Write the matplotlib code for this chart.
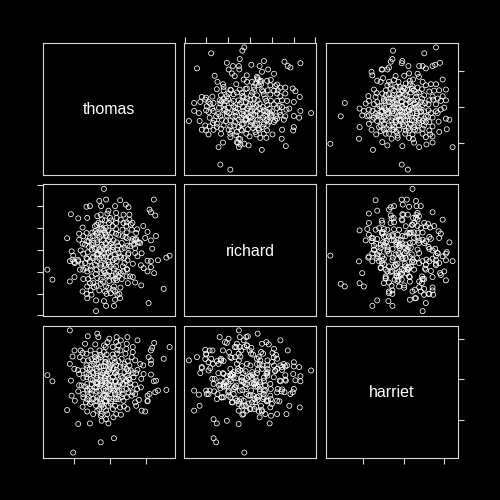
import matplotlib
matplotlib.use('Agg')
import matplotlib.pyplot as plt
import numpy as np

names = ['thomas', 'richard', 'harriet']

richard = [-0.26, -0.35, -1.78, -0.47, -1.06, 1.58, 2.31, -0.78, -0.51, 0.06,
           0.44, 0.64, 1.73, 1.85, -2.43, -0.98, -0.49, 0.83, 0.55, -0.83,
           -0.70, -1.62, 1.10, 0.32, -0.29, 0.35, -1.49, -0.14, 0.09, 0.47,
           0.78, -1.24, -0.63, 0.25, 0.51, 1.24, 1.16, 1.39, 1.62, -1.52,
           -1.21, -0.87, -0.47, -0.14, 0.20, 0.55, 0.81, 1.27, 1.96, 2.08,
           1.62, -2.21, -2.01, -1.72, -1.33, -1.06, -0.75, -0.29, 0.05, 0.63,
           0.93, 1.39, 2.28, -2.56, -2.28, -1.90, -1.39, -1.10, -0.75, -0.52,
           0.02, 0.35, 0.96, 1.24, 1.70, 2.01, -1.98, -1.73, -1.42, -0.98,
           -0.67, -0.32, -0.06, 0.20, 0.58, 0.90, 1.24, 1.47, -2.56, -1.90,
           -1.67, -1.21, -0.29, 0.02, 0.32, 0.63, 1.01, 1.36, 1.67, 2.31,
           2.80, -2.34, -1.36, -1.06, -0.67, -0.29, -0.06, 0.25, 0.70, 0.96,
           1.19, 1.62, 2.01, 2.25, -2.80, -2.31, -1.64, -1.29, -0.90, -0.52,
           -0.17, 0.09, 0.35, 0.75, 0.86, 1.24, 1.55, -2.05, -1.85, -1.52,
           -1.21, -0.90, -0.75, -0.37, 0.02, 0.25, 0.63, 2.01, -2.21, -2.01,
           -1.67, -1.33, -0.98, -0.83, -0.37, 0.14, 0.78, 1.47, 1.98, -1.90,
           -1.33, -0.90, -0.63, -0.02, 0.29, 0.47, 0.75, 1.03, -0.60, -0.44,
           -0.26, -1.24, -1.44, -0.51, -0.06, 1.45, 1.64, 0.54, -1.36, -0.90,
           -2.01, -1.82, -1.18, -0.47, -0.20, 0.14, 0.44, 0.75, 1.09, -0.96,
           -0.63, 0.44, 0.78, -0.41, -0.17, 0.41, 0.63, -1.55, -1.85, -0.14,
           0.09, -0.37, -0.21, -0.52, -0.67, -1.21, -0.98, 0.32, 0.70, -1.06,
           -1.36, 0.93, 1.09, 0.32, 0.55, -0.90, -0.52, -0.14, -0.37, -1.21,
           0.17, 0.93, 1.24, 1.47, -1.67, -1.52, 0.47, -0.75, 0.02,
           0.35, 0.50, 0.40, -0.20, -0.60, -0.90, -0.35, 0.10, 0.60, 1.10,
           -1.30, -0.85, -0.40, 0.00, 0.30, 0.80, 1.35, -1.15, -0.55, -0.15,
           0.15, 0.45, 1.00, -1.45, -0.80, -0.40, 0.05, 0.60, 0.80, 1.40,
           -1.10, -0.30, 0.40, 0.80, -0.60, -0.10, -0.45, -0.55, 0.25, -1.70,
           1.80, -2.05, 0.95, -0.15, 0.70, -0.70, 0.20, -0.20, 1.15, -1.00]
thomas = [3.31, 3.13, 2.98, 2.66, 2.45, 2.51, 2.43, 2.27, 2.27, 2.34,
          2.27, 2.55, 2.27, 2.19, 2.14, 2.08, 2.08, 2.08, 1.95, 1.86,
          1.71, 1.73, 1.84, 1.67, 1.52, 1.52, 1.39, 1.39, 1.39, 1.39,
          1.45, 1.26, 1.26, 1.30, 1.26, 1.24, 1.15, 1.07, 1.07, 0.98,
          0.92, 0.92, 0.96, 1.02, 0.96, 0.92, 0.92, 0.92, 1.02, 0.87,
          0.74, 0.55, 0.51, 0.57, 0.64, 0.59, 0.70, 0.55, 0.64, 0.70,
          0.68, 0.59, 0.55, 0.21, 0.27, 0.27, 0.36, 0.31, 0.33, 0.36,
          0.40, 0.36, 0.33, 0.33, 0.33, 0.27, 0.03, -0.10, -0.05, -0.05,
          -0.07, -0.01, 0.03, -0.05, -0.01, -0.10, -0.07, -0.01, -0.23, -0.29,
          -0.23, -0.20, -0.23, -0.29, -0.25, -0.20, -0.25, -0.29, -0.16, -0.23,
          -0.35, -0.35, -0.53, -0.48, -0.53, -0.48, -0.53, -0.48, -0.48, -0.53,
          -0.53, -0.53, -0.51, -0.61, -0.79, -0.79, -0.76, -0.72, -0.76, -0.72,
          -0.66, -0.76, -0.72, -0.76, -0.83, -0.66, -0.72, -1.04, -1.09, -1.13,
          -1.04, -1.09, -1.04, -0.98, -1.04, -1.04, -0.98, -1.13, -1.28, -1.32,
          -1.28, -1.22, -1.28, -1.35, -1.32, -1.18, -1.32, -1.28, -1.32, -1.54,
          -1.50, -1.50, -1.60, -1.65, -1.54, -1.73, -1.73, -1.54, -1.97, -2.10,
          -2.06, -1.99, -2.25, -2.25, -2.15, -1.78, -2.19, -2.40, -3.22, -3.50,
          -0.20, 0.18, 0.14, 0.14, 0.27, 0.14, 0.18, 0.33, 0.14, -0.35,
          -0.29, -0.38, -0.29, -1.28, -1.50, -1.28, -1.50, -0.53, -0.61, -0.10,
          -0.20, -0.38, -0.76, -1.13, -0.85, 0.46, 0.74, 0.64, 0.46, -0.29,
          0.18, -0.38, -0.85, -0.94, -1.13, -1.69, -1.78, 0.46, 0.77, 1.11,
          1.11, 1.20, 0.74, 0.36, 0.21, -0.94, -0.72, 0.03, -0.61,
          1.60, 1.45, 1.20, 1.00, 0.80, 0.95, 0.60, 0.80, 0.85, 0.90,
          0.30, 0.20, 0.25, 0.15, 0.05, 0.10, 0.05, -0.15, -0.10, -0.35,
          -0.40, -0.10, -0.45, -0.40, -0.55, -0.60, -0.85, -0.60, -0.70, -0.45,
          -0.80, -0.95, -1.20, -1.00, -1.40, -1.25, -1.80, -2.00, -1.40, -0.90,
          -0.10, 0.40, 1.50, 1.75, -0.25, -0.25, 0.45, -0.70, -0.75, 0.45]

harriet_read = [1.59, 1.01, -0.53, -0.56, -0.64, -0.07, -0.10, 1.79, 1.42, 1.55,
                0.76, 0.93, 1.09, 0.23, -1.59, -1.55, -1.09, -1.06, -0.73, -0.81,
                -1.31, -1.14, -0.73, -0.48, -0.26, 0.30, 0.46, 0.93, 1.34, 1.92,
                -0.02, 0.18, 0.68, 1.09, -1.47, -1.34, -1.06, -0.73, -0.48, -0.23,
                0.35, 0.76, 1.26, 1.50, 1.75, 2.08, -0.89, -0.56, -0.15, 0.18,
                0.60, 1.01, 1.67, 1.92, -1.72, -1.31, -0.98, -0.56, -0.10, 0.30,
                0.68, 1.26, 1.83, 2.08, -2.91, -1.88, -1.47, -1.09, -0.73, -0.36,
                0.10, 0.93, 1.22, 1.59, -2.18, -1.72, -1.31, -0.89, -0.56, -0.20,
                0.26, 0.76, 1.22, 2.00, -2.05, -1.72, -1.39, -1.09, -0.76, -0.48,
                -0.07, 0.43, 0.84, 1.34, 1.67, -3.11, -1.80, -1.47, -1.31, -0.89,
                -0.56, -0.23, 0.18, 0.60, 1.01, 1.42, 2.08, 2.25, -1.55, -0.98,
                -0.56, -0.15, 0.30, 0.76, 1.26, 1.72, -0.73, -0.48, 0.02, 0.51,
                0.93, -2.18, -0.98, -0.56, -0.23, 0.26, 0.68, 1.26, 2.12, -1.36,
                -0.89, 0.07, 0.43, 0.93, -2.21, -0.81, -0.07, 0.51, 0.76, 1.12,
                1.42, -3.62, 2.41, -1.52, -0.10, 0.20, -0.60, -0.31, -1.06, -1.22,
                -1.72, 1.83, -0.23, 0.10, 0.02, 0.26, -0.40, 0.68, 0.43, -0.81,
                1.42, 1.75, 1.09, -1.14, -0.48, -0.10, 0.30, 0.51, -0.73, -1.97,
                1.42, 1.09, -0.81, 0.15, 1.59, -1.02, -0.89, -0.64, -0.36, -0.10,
                0.40, 0.63, 0.89, -0.98, -0.36, 0.07, 0.46, 0.84, -0.31, -0.07,
                0.30, 0.68, -1.06, 0.02, 1.01, -1.55, -1.22, -0.26, 0.13, 0.63,
                1.09, -0.98, -0.40, 0.07, 0.51, 0.93, -1.14, -0.23, 0.23, 0.68,
                -0.73, -0.36, -1.14, 0.26, -1.59, 1.42, -0.64, -1.39, 1.59,
                -0.20, 0.05, 0.50, -0.55, -0.30, 0.15, 0.35, 0.90, -0.90, -0.45,
                -0.10, 0.55, 1.05, -1.20, -0.60, -0.25, 0.40, 0.85, -0.80, -0.35,
                0.05, 0.65, 1.20, -1.05, -0.60, -0.15, 0.40, 0.75, -0.40, -0.05,
                0.35, 1.00, -0.85, -0.50, 0.10, 0.55, -0.30, 0.45, -1.30, 1.45,
                -0.65, 0.75, 1.30, -1.75, 0.20, -0.20, 0.60, -0.05, 0.30, -0.95]
thomas_read = [3.32, 3.00, 3.09, 2.68, 2.50, 2.53, 2.38, 2.44, 2.29, 2.35,
               2.25, 2.20, 2.07, 2.20, 1.88, 1.75, 2.07, 1.97, 2.10, 1.88,
               1.45, 1.45, 1.41, 1.50, 1.41, 1.45, 1.50, 1.41, 1.32, 1.50,
               1.19, 1.04, 1.13, 1.22, 1.04, 0.89, 0.85, 0.85, 0.94, 0.89,
               0.89, 0.89, 0.89, 0.94, 1.00, 1.04, 0.70, 0.63, 0.66, 0.57,
               0.66, 0.70, 0.63, 0.66, 0.48, 0.38, 0.44, 0.33, 0.42, 0.38,
               0.48, 0.48, 0.44, 0.48, 0.33, 0.25, 0.20, 0.14, 0.10, 0.20,
               0.14, 0.14, 0.20, 0.14, -0.08, -0.08, -0.05, -0.12, -0.18, -0.08,
               -0.14, -0.08, -0.12, 0.01, -0.46, -0.46, -0.36, -0.31, -0.36, -0.42,
               -0.31, -0.36, -0.31, -0.36, -0.36, -0.55, -0.61, -0.68, -0.93, -0.74,
               -0.64, -0.74, -0.74, -0.64, -0.68, -0.64, -0.68, -0.74, -0.79, -1.06,
               -1.06, -0.98, -1.06, -1.06, -1.02, -0.98, -1.21, -1.24, -1.21, -1.24,
               -1.30, -1.26, -1.49, -1.39, -1.49, -1.49, -1.58, -1.49, -1.36, -1.73,
               -1.67, -1.67, -1.73, -1.67, -1.92, -2.10, -2.18, -2.05, -2.18, -2.10,
               -1.99, -2.05, -2.27, -2.38, -3.26, -3.52, -1.86, -1.77, -1.95, -1.24,
               -1.06, -0.08, 0.76, 1.37, 1.75, 1.88, 1.69, 1.79, 1.22, 1.22,
               -1.77, -1.67, -1.77, -0.64, 0.10, -0.46, -0.42, 0.01, 0.38, -0.18,
               0.66, -1.02, -0.46, -0.18, 1.32, 1.60, 1.04, 1.07, 1.19, 1.04,
               1.04, 0.85, 1.04, 0.57, 0.51, 0.81, 0.51, 0.38, 0.01, 0.10,
               0.10, 0.10, -0.18, -0.05, -0.18, -0.18, -0.46, -0.55, -0.55, -0.50,
               -0.50, -0.64, -0.93, -0.93, -0.93, -0.93, -1.11, -1.21, -1.30, -1.21,
               -1.67, -1.62, -1.58, -1.86, -1.39, -1.21, 0.57, 0.66, -0.18,
               1.20, 1.10, 0.95, 0.75, 0.60, 0.70, 0.45, 0.60, 0.40, 0.25,
               0.35, 0.25, 0.30, 0.10, -0.05, 0.05, -0.05, -0.25, -0.30, -0.25,
               -0.35, -0.40, -0.60, -0.80, -0.85, -0.75, -0.80, -0.75, -1.05, -1.10,
               -1.10, -1.15, -1.30, -1.45, -1.50, -1.40, -1.80, -1.95, -0.50, 0.55,
               1.30, 1.65, -1.70, 0.70, -0.60, -0.50, 0.05, 0.90, 1.35, -0.05]

# axis ticks (no labels are printed)
tick_values = {'thomas': [-2, 0, 2],
               'richard': [-3, -2, -1, 0, 1, 2, 3],
               'harriet': [-2, 0, 2]}

# pair the harriet readings to the thomas/richard points by thomas rank
thomas = np.array(thomas)
richard = np.array(richard)
harriet = np.empty(len(thomas))
harriet[np.argsort(thomas)] = np.array(harriet_read)[np.argsort(thomas_read)]

data = {'thomas': thomas, 'richard': richard, 'harriet': harriet}

fg = '#d8d8d8'


def lims(v):
    lo, hi = v.min(), v.max()
    pad = 0.04 * (hi - lo)
    return lo - pad, hi + pad


fig = plt.figure(figsize=(5, 5), dpi=100, facecolor='black')

starts = [42.5, 184, 325.5]
size = 132.0

for i in range(3):
    for j in range(3):
        ax = fig.add_axes([starts[j] / 500, 1 - (starts[i] + size) / 500,
                           size / 500, size / 500])
        ax.set_facecolor('black')
        for sp in ax.spines.values():
            sp.set_color(fg)
            sp.set_linewidth(0.8)
        xv = data[names[j]]
        yv = data[names[i]]
        ax.set_xlim(lims(xv))
        ax.set_ylim(lims(yv))
        ax.set_xticks([])
        ax.set_yticks([])
        if i == j:
            ax.text(0.5, 0.49, names[i], transform=ax.transAxes, ha='center',
                    va='center', color='white', fontsize=11.5,
                    family='Liberation Sans')
        else:
            ax.scatter(xv, yv, s=13, facecolors='none', edgecolors='white',
                       linewidths=0.55)

        # R pairs() style alternating axes
        if i == 0 and j % 2 == 1:
            ax.set_xticks(tick_values[names[j]])
            ax.xaxis.tick_top()
        if i == 2 and j % 2 == 0:
            ax.set_xticks(tick_values[names[j]])
            ax.xaxis.tick_bottom()
        if j == 0 and i % 2 == 1:
            ax.set_yticks(tick_values[names[i]])
            ax.yaxis.tick_left()
        if j == 2 and i % 2 == 0:
            ax.set_yticks(tick_values[names[i]])
            ax.yaxis.tick_right()
        ax.tick_params(colors=fg, length=4, width=0.8, labelcolor='black',
                       labelsize=1)

fig.savefig('out.png', dpi=100, facecolor='black')
